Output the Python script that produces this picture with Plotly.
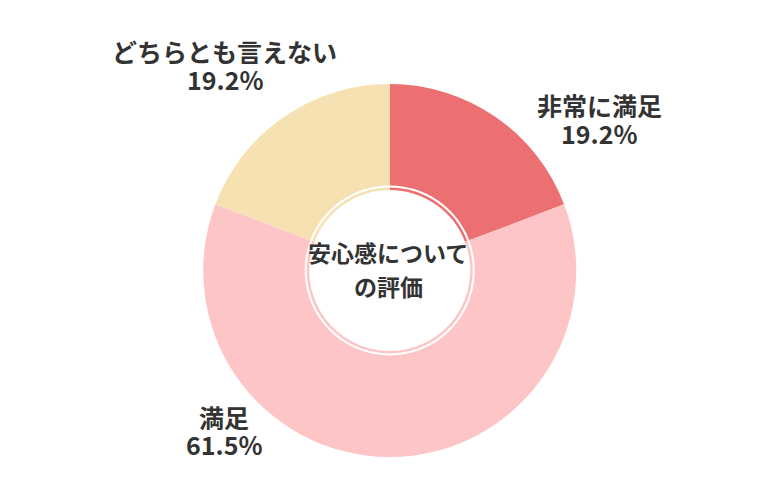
import plotly.graph_objects as go

# 安心感についての評価 (回答数)
labels = ['非常に満足', '満足', 'どちらとも言えない']
counts = [5, 16, 5]
colors = ['#EC7071', '#FEC5C7', '#F5E1B1']
center_title = ['安心感について', 'の評価']

total = sum(counts)
pct = [c / total * 100 for c in counts]

fig = go.Figure()

# main donut
fig.add_trace(go.Pie(
    labels=labels, values=counts, hole=0.456, sort=False,
    direction='clockwise', rotation=0,
    marker=dict(colors=colors, line=dict(width=0)),
    textinfo='none', hoverinfo='label+percent', showlegend=False,
    domain=dict(x=[0.2503, 0.7285], y=[0.102, 0.848]),
))

# thin inner ring
fig.add_trace(go.Pie(
    labels=labels, values=counts, hole=0.97, sort=False,
    direction='clockwise', rotation=0,
    marker=dict(colors=colors, line=dict(width=0)),
    textinfo='none', hoverinfo='skip', showlegend=False,
    domain=dict(x=[0.3830, 0.5958], y=[0.309, 0.641]),
))

font = dict(family='Noto Sans CJK JP', size=25, color='#333333')
# (x, y of first line, y of second line)
label_pos = [(0.7577, 0.806, 0.750), (0.2769, 0.182, 0.128), (0.2782, 0.914, 0.858)]
for lab, p, (x, y1, y2) in zip(labels, pct, label_pos):
    fig.add_annotation(x=x, y=y1, xref='paper', yref='paper', showarrow=False,
                       xanchor='center', yanchor='middle', height=26,
                       text=f'<b>{lab}</b>', font=font)
    fig.add_annotation(x=x, y=y2, xref='paper', yref='paper', showarrow=False,
                       xanchor='center', yanchor='middle', height=26,
                       text=f'<b>{p:.1f}%</b>', font=font)

for line, y in zip(center_title, [0.512, 0.444]):
    fig.add_annotation(
        x=0.4878, y=y, xref='paper', yref='paper', showarrow=False,
        xanchor='center', yanchor='middle',
        text=f'<b>{line}</b>', font=dict(family='Noto Sans CJK JP', size=23, color='#333333'),
    )

fig.update_layout(
    width=780, height=500,
    margin=dict(l=0, r=0, t=0, b=0),
    paper_bgcolor='white', plot_bgcolor='white',
)

fig.write_html('out.html')
